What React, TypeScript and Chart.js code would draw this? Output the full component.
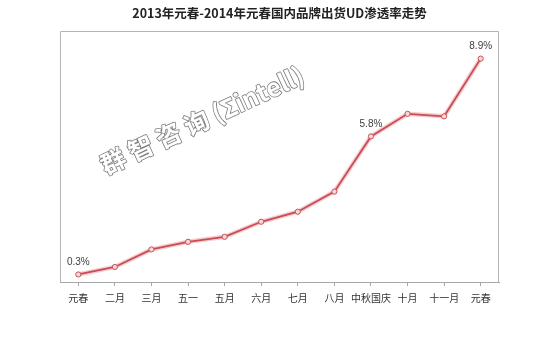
import React, { useEffect, useRef } from "react";
import { Chart, registerables } from "chart.js";

Chart.register(...registerables);

const titleText = "2013年元春-2014年元春国内品牌出货UD渗透率走势";
const categories = ["元春", "二月", "三月", "五一", "五月", "六月", "七月", "八月", "中秋国庆", "十月", "十一月", "元春"];
const penetration = [0.3, 0.6, 1.3, 1.6, 1.8, 2.4, 2.8, 3.6, 5.8, 6.7, 6.6, 8.9];
const labeledPoints = [0, 8, 11];
const watermarkText = "群 智 咨 询 (Σintell)";

const framePlugin = {
  id: "frame",
  beforeDatasetsDraw(chart: any) {
    const { ctx, chartArea } = chart;
    const { left, right, top, bottom } = chartArea;
    ctx.save();
    ctx.strokeStyle = "#b4b4b4";
    ctx.lineWidth = 1;
    ctx.beginPath();
    ctx.moveTo(Math.round(left) + 0.5, bottom);
    ctx.lineTo(Math.round(left) + 0.5, Math.round(top) + 0.5);
    ctx.lineTo(Math.round(right) - 0.5, Math.round(top) + 0.5);
    ctx.lineTo(Math.round(right) - 0.5, bottom);
    ctx.stroke();
    // watermark
    ctx.translate(left + 142, top + 89);
    ctx.rotate((-24.8 * Math.PI) / 180);
    ctx.font = 'bold 25px "Noto Sans CJK SC"';
    ctx.textAlign = "center";
    ctx.textBaseline = "middle";
    ctx.lineJoin = "round";
    ctx.fillStyle = "#ffffff";
    ctx.strokeStyle = "#7a7a7a";
    ctx.lineWidth = 1.6;
    ctx.strokeText(watermarkText, 0, 0);
    ctx.fillText(watermarkText, 0, 0);
    ctx.restore();
  },
};

const labelPlugin = {
  id: "pointLabels",
  afterDatasetsDraw(chart: any) {
    const { ctx } = chart;
    const meta = chart.getDatasetMeta(0);
    ctx.save();
    ctx.font = '10px "Liberation Sans", Arial, sans-serif';
    ctx.fillStyle = "#404040";
    ctx.textAlign = "center";
    ctx.textBaseline = "middle";
    labeledPoints.forEach((i) => {
      const el = meta.data[i];
      if (!el) return;
      ctx.fillText(penetration[i].toFixed(1) + "%", el.x, el.y - 12.5);
    });
    ctx.restore();
  },
};

export default function App() {
  const ref = useRef<HTMLCanvasElement>(null);
  useEffect(() => {
    if (!ref.current) return;
    const chart = new Chart(ref.current, {
      type: "line",
      data: {
        labels: categories,
        datasets: [
          {
            data: penetration,
            borderColor: "#cc4a55",
            borderWidth: 1.8,
            pointRadius: 2.6,
            pointBackgroundColor: "#f6d6d8",
            pointBorderColor: "#c9505a",
            pointBorderWidth: 1,
            tension: 0,
          },
          {
            data: penetration,
            borderColor: "rgba(242,196,199,0.85)",
            borderWidth: 4.5,
            pointRadius: 0,
            tension: 0,
          },
        ],
      },
      options: {
        responsive: false,
        animation: false,
        layout: { padding: { left: 60, right: 51, top: 0, bottom: 43 } },
        plugins: {
          legend: { display: false },
          tooltip: { enabled: false },
          title: {
            display: true,
            text: titleText,
            color: "#222",
            font: { family: '"Noto Sans CJK SC"', size: 12.5, weight: "bold" },
            padding: { top: 6, bottom: 10 },
          },
        },
        scales: {
          x: {
            type: "category",
            offset: true,
            grid: {
              display: true,
              drawOnChartArea: false,
              drawTicks: true,
              tickLength: 4,
              color: "#a8a8a8",
            },
            border: { display: true, color: "#a8a8a8" },
            ticks: {
              autoSkip: false,
              maxRotation: 0,
              padding: 6,
              color: "#333",
              font: { family: '"Noto Sans CJK SC"', size: 10 },
            },
          },
          y: {
            display: false,
            min: 0,
            max: 10,
          },
        },
      },
      plugins: [framePlugin, labelPlugin],
    });
    return () => chart.destroy();
  }, []);
  return (
    <div style={{ position: "absolute", left: 0, top: 0, width: 550, height: 353, background: "#fff" }}>
      <canvas ref={ref} width={550} height={353} />
    </div>
  );
}
